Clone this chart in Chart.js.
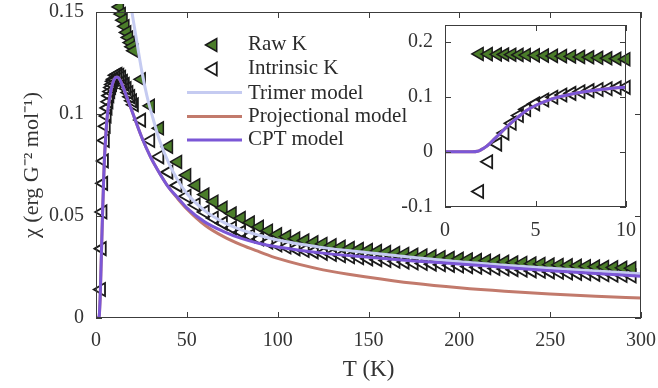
<!DOCTYPE html>
<html><head><meta charset="utf-8">
<script src="https://cdn.jsdelivr.net/npm/chart.js@4.4.1/dist/chart.umd.min.js"></script>
<style>
html,body{margin:0;padding:0;background:#fff;}
#wrap{position:relative;width:658px;height:388px;overflow:hidden;background:#fff;}
#main{position:absolute;left:0;top:0;}
#inset{position:absolute;left:395px;top:15px;}
#legend{position:absolute;left:0;top:0;width:658px;height:388px;pointer-events:none;}
#legend svg{position:absolute;left:0;top:0;}
.lt{position:absolute;left:248px;height:24px;line-height:24px;font-family:"Liberation Serif",serif;font-size:21px;color:#2a2a2a;white-space:nowrap;}
</style></head>
<body>
<div id="wrap">
<canvas id="main" width="658" height="388"></canvas>
<div id="legend">
<svg width="658" height="388">
<polygon points="205.5,45 216.75,38.5 216.75,51.5" fill="#4b7d2a" stroke="#1a1a1a" stroke-width="1.5"/>
<polygon points="205.5,69 216.75,62.5 216.75,75.5" fill="none" stroke="#1a1a1a" stroke-width="1.8"/>
<line x1="187" y1="92.5" x2="242" y2="92.5" stroke="#c5cbf1" stroke-width="3"/>
<line x1="187" y1="116.5" x2="242" y2="116.5" stroke="#c27a6c" stroke-width="3"/>
<line x1="187" y1="140" x2="242" y2="140" stroke="#7b57d6" stroke-width="3"/>
</svg>
<div class="lt" style="top:31px">Raw K</div>
<div class="lt" style="top:55px">Intrinsic K</div>
<div class="lt" style="top:80px">Trimer model</div>
<div class="lt" style="top:103px">Projectional model</div>
<div class="lt" style="top:126px">CPT model</div>
</div>
<canvas id="inset" width="258" height="235"></canvas>
</div>
<script>
// ---- data ----
const sampleT = [1.9,2.4,2.9,3.3,3.7,4.1,4.5,5.0,5.5,6.0,6.5,7.0,7.5,8.0,8.5,9.0,9.5,10.0,
  11,12,13,14,15,16,17,18,19,20,21,
  25,30,35,40,45,50,55,60,65,70,75,80,85,90,95,100,105,110,115,120,125,130,135,140,145,150,
  155,160,165,170,175,180,185,190,195,200,205,210,215,220,225,230,235,240,245,250,
  255,260,265,270,275,280,285,290,295];
const rawK = [0.1775,0.1772,0.1768,0.1765,0.1762,0.1758,0.1755,0.1750,0.1745,0.1740,0.1735,0.1730,0.1722,0.1715,0.1705,0.1697,0.1688,0.1680,
  0.1630,0.1575,0.1525,0.1490,0.1460,0.1430,0.1400,0.1375,0.1350,0.1330,0.1310,
  0.1170,0.1040,0.0930,0.0840,0.0765,0.0700,0.0650,0.0605,0.0570,0.0540,0.0512,0.0490,0.0468,0.0447,0.0428,0.0410,
  0.0399,0.0389,0.0380,0.0371,0.0363,0.0356,0.0349,0.0343,0.0338,0.0333,
  0.0328,0.0323,0.0318,0.0314,0.0310,0.0306,0.0302,0.0298,0.0294,0.0290,
  0.0287,0.0284,0.0281,0.0278,0.0275,0.0272,0.0270,0.0267,0.0265,0.0262,
  0.0260,0.0258,0.0256,0.0254,0.0252,0.0250,0.0248,0.0246,0.0244];
const intrinsicK = [-0.072,-0.018,0.014,0.034,0.052,0.066,0.077,0.087,0.094,0.099,0.103,0.106,0.109,0.111,0.113,0.1145,0.116,0.117,
  0.1190,0.1195,0.1190,0.1180,0.1160,0.1145,0.1125,0.1105,0.1085,0.1065,0.1045,
  0.0970,0.0870,0.0790,0.0715,0.0650,0.0597,0.0555,0.0520,0.0490,0.0465,0.0442,0.0421,0.0403,0.0387,0.0372,0.0358,
  0.0348,0.0339,0.0331,0.0324,0.0317,0.0311,0.0305,0.0300,0.0295,0.0290,
  0.0286,0.0282,0.0278,0.0274,0.0270,0.0267,0.0264,0.0261,0.0258,0.0255,
  0.0252,0.0249,0.0246,0.0243,0.0240,0.0237,0.0234,0.0231,0.0229,0.0226,
  0.0224,0.0221,0.0219,0.0217,0.0214,0.0212,0.0210,0.0208,0.0206];
const cptT = [0,1,1.5,1.8,2,2.25,2.5,2.75,3,3.5,4,4.5,5,5.5,6,7,8,9,10,11,12,13,15,17.5,20,25,30,35,40,45,50,60,70,80,90,100,125,150,175,200,225,250,275,300];
const cptChi = [0,0,0,0.001,0.004,0.009,0.016,0.024,0.032,0.048,0.062,0.075,0.084,0.091,0.097,0.105,0.1105,0.1145,0.117,0.118,0.118,0.117,0.113,0.107,0.101,0.089,0.079,0.071,0.064,0.059,0.054,0.047,0.0425,0.039,0.0365,0.0348,0.0318,0.0298,0.028,0.0265,0.0248,0.0232,0.0218,0.0205];
const trimerT = [15,17,19.8,22,25,28,31,35,40,45,50,60,70,80,90,100,125,150,175,200,225,250,275,300];
const trimerChi = [0.19,0.168,0.150,0.138,0.122,0.109,0.099,0.087,0.076,0.0675,0.061,0.0525,0.047,0.0432,0.0405,0.0382,0.0345,0.032,0.0296,0.0276,0.0259,0.0244,0.0230,0.0217];
const projT = [0,1,1.5,1.8,2,2.25,2.5,2.75,3,3.5,4,4.5,5,5.5,6,7,8,9,10,11,12,13,15,17.5,20,25,30,35,40,45,50,60,70,80,90,100,125,150,175,200,225,250,275,300];
const projChi = [0,0,0,0.001,0.004,0.009,0.016,0.024,0.032,0.048,0.062,0.075,0.084,0.091,0.097,0.105,0.1105,0.1145,0.117,0.118,0.118,0.117,0.113,0.107,0.101,0.089,0.079,0.071,0.064,0.0585,0.0535,0.0455,0.0400,0.0358,0.0324,0.0292,0.0236,0.0200,0.0170,0.0148,0.0131,0.0118,0.0107,0.0098];
const mainXTicks = [0,50,100,150,200,250,300];
const mainYTicks = [0,0.05,0.1,0.15];
const insetXTicks = [0,5,10];
const insetYTicks = [-0.1,0,0.1,0.2];

// ---- helpers ----
const pts = (xs, ys) => xs.map((x, i) => ({x: x, y: ys[i]}));
const FONT = {family: '"Liberation Serif", serif', size: 20};
const XTFONT = {family: '"Liberation Serif", serif', size: 23};
const YTFONT = {family: '"Liberation Serif", serif', size: 22};
const TXT = '#333333';
const FRAME = '#3c3c3c';

const frameTicks = {
  id: 'frameTicks',
  beforeDraw(chart, args, opts) {
    if (opts && opts.bg) {
      const a = chart.chartArea, ctx = chart.ctx;
      ctx.save(); ctx.fillStyle = '#ffffff';
      ctx.fillRect(a.left, a.top, a.width, a.height); ctx.restore();
    }
  },
  afterDraw(chart) {
    const {ctx, chartArea: a, scales: {x, y}} = chart;
    const L = 6;
    ctx.save();
    ctx.strokeStyle = FRAME; ctx.lineWidth = 1;
    ctx.beginPath();
    x.ticks.forEach(t => {
      const px = Math.round(x.getPixelForValue(t.value)) + 0.5;
      ctx.moveTo(px, a.bottom); ctx.lineTo(px, a.bottom - L);
      ctx.moveTo(px, a.top); ctx.lineTo(px, a.top + L);
    });
    y.ticks.forEach(t => {
      const py = Math.round(y.getPixelForValue(t.value)) + 0.5;
      ctx.moveTo(a.left, py); ctx.lineTo(a.left + L, py);
      ctx.moveTo(a.right, py); ctx.lineTo(a.right - L, py);
    });
    ctx.stroke();
    ctx.strokeRect(Math.round(a.left) + 0.5, Math.round(a.top) + 0.5, Math.round(a.width) - 1, Math.round(a.height) - 1);
    ctx.restore();
  }
};

function fix(size, isH) {
  return function (s) {
    if (isH) s.height = size; else s.width = size;
    s.paddingLeft = 0; s.paddingRight = 0; s.paddingTop = 0; s.paddingBottom = 0;
  };
}
function setTicks(vals) { return function (s) { s.ticks = vals.map(v => ({value: v})); }; }

function datasets() {
  return [
    {label: 'CPT model', data: pts(cptT, cptChi), showLine: true, borderColor: '#7b57d6', borderWidth: 3, pointRadius: 0, cubicInterpolationMode: 'monotone', order: 1},
    {label: 'Projectional model', data: pts(projT, projChi), showLine: true, borderColor: '#c27a6c', borderWidth: 3, pointRadius: 0, cubicInterpolationMode: 'monotone', order: 2},
    {label: 'Trimer model', data: pts(trimerT, trimerChi), showLine: true, borderColor: '#c5cbf1', borderWidth: 3, pointRadius: 0, cubicInterpolationMode: 'monotone', order: 3},
    {label: 'Raw K', data: pts(sampleT, rawK), showLine: false, pointStyle: 'triangle', rotation: -90, pointRadius: 7.5, borderWidth: 1.5, borderColor: '#1a1a1a', backgroundColor: '#4b7d2a', clip: 8, order: 4},
    {label: 'Intrinsic K', data: pts(sampleT, intrinsicK), showLine: false, pointStyle: 'triangle', rotation: -90, pointRadius: 7.5, borderWidth: 1.8, borderColor: '#1a1a1a', backgroundColor: 'rgba(0,0,0,0)', clip: 8, order: 5}
  ];
}

new Chart(document.getElementById('main'), {
  type: 'scatter',
  data: {datasets: datasets()},
  options: {
    responsive: false, animation: false, events: [],
    layout: {padding: {top: 12, right: 17, left: 0, bottom: 0}},
    plugins: {legend: {display: false}, tooltip: {enabled: false}, frameTicks: {bg: false}},
    scales: {
      x: {type: 'linear', min: 0, max: 300, afterFit: fix(70, true), afterBuildTicks: setTicks(mainXTicks),
        grid: {display: false, drawTicks: false}, border: {display: false},
        ticks: {padding: 11, font: FONT, color: TXT, maxRotation: 0, callback: v => String(v)},
        title: {display: true, text: 'T (K)', font: XTFONT, color: TXT, padding: {top: 0, bottom: 4}}},
      y: {type: 'linear', min: 0, max: 0.15, afterFit: fix(96, false), afterBuildTicks: setTicks(mainYTicks),
        grid: {display: false, drawTicks: false}, border: {display: false},
        ticks: {padding: 12, font: FONT, color: TXT, callback: v => String(v)},
        title: {display: true, text: 'χ (erg G⁻² mol⁻¹)', font: YTFONT, color: TXT, padding: {top: 19, bottom: 0}}}
    }
  },
  plugins: [frameTicks]
});

const insetSets = datasets().filter(d => d.label !== 'Trimer model');
new Chart(document.getElementById('inset'), {
  type: 'scatter',
  data: {datasets: insetSets},
  options: {
    responsive: false, animation: false, events: [],
    layout: {padding: {top: 10, right: 27, left: 0, bottom: 0}},
    plugins: {legend: {display: false}, tooltip: {enabled: false}, frameTicks: {bg: true}},
    scales: {
      x: {type: 'linear', min: 0, max: 10, afterFit: fix(43, true), afterBuildTicks: setTicks(insetXTicks),
        grid: {display: false, drawTicks: false}, border: {display: false},
        ticks: {padding: 12, font: FONT, color: TXT, maxRotation: 0, callback: v => String(v)}},
      y: {type: 'linear', min: -0.1, max: 0.23, afterFit: fix(50, false), afterBuildTicks: setTicks(insetYTicks),
        grid: {display: false, drawTicks: false}, border: {display: false},
        ticks: {padding: 12, font: FONT, color: TXT, callback: v => String(v)}}
    }
  },
  plugins: [frameTicks]
});
</script>
</body></html>
